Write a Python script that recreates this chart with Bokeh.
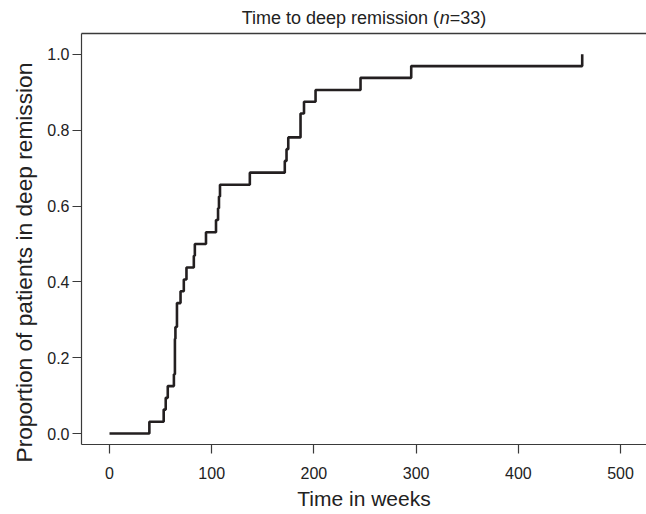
from bokeh.plotting import figure
from bokeh.layouts import column
from bokeh.models import LinearAxis, FixedTicker, Range1d, Label, Title, NumeralTickFormatter
from bokeh.embed import file_html
from bokeh.resources import INLINE

title_main = "Time to deep remission ("
title_italic = "n"
title_tail = "=33)"
x_label = "Time in weeks"
y_label = "Proportion of patients in deep remission"

weeks = [0, 39, 53, 55, 57, 63, 64, 64.5, 66, 69.5, 72.7, 75.3, 82.5, 83.5, 94.4,
         104.2, 106.2, 107.1, 108.1, 137.3, 171.5, 173.2, 174.9, 186.9, 190.3,
         201.6, 245.6, 295.2, 462.5]
proportion = [0.0, 0.031, 0.063, 0.094, 0.125, 0.156, 0.25, 0.281, 0.344, 0.375,
              0.406, 0.438, 0.469, 0.5, 0.531, 0.563, 0.594, 0.625, 0.656, 0.688,
              0.719, 0.75, 0.781, 0.844, 0.875, 0.906, 0.938, 0.969, 1.0]
x_ticks = [0, 100, 200, 300, 400, 500]
y_ticks = [0.0, 0.2, 0.4, 0.6, 0.8, 1.0]

FONT = "Liberation Sans"
AX = "#3a3a3a"
TXT = "#222222"
TITLE_SIZE = 18

# title strip (its frame is aligned with the main frame: x from 81 to 646 px)
t = figure(width=646, height=30, x_range=Range1d(81, 646), y_range=Range1d(30, 0),
           output_backend="svg", toolbar_location=None, min_border=0,
           min_border_left=81, min_border_right=0,
           x_axis_type=None, y_axis_type=None)
t.outline_line_color = None
t.xgrid.visible = False
t.ygrid.visible = False
w_main = 11003 * TITLE_SIZE / 1000.0
w_n = 556 * TITLE_SIZE / 1000.0
w_tail = 2029 * TITLE_SIZE / 1000.0
tx = 363.5 - (w_main + w_n + w_tail) / 2.0
ty = 17
common = dict(text_font=FONT, text_font_size=f"{TITLE_SIZE}px", text_color=TXT,
              text_baseline="alphabetic", text_align="left")
t.add_layout(Label(x=tx, y=ty, text=title_main, **common))
t.add_layout(Label(x=tx, y=ty, x_offset=w_main, text=title_italic,
                   text_font_style="italic", **common))
t.add_layout(Label(x=tx, y=ty, x_offset=w_main + w_n, text=title_tail, **common))

p = figure(width=646, height=484,
           x_range=Range1d(-27.4, 525.4), y_range=Range1d(-0.029, 1.055),
           output_backend="svg", toolbar_location=None,
           min_border_left=81, min_border_right=0, min_border_top=3, min_border_bottom=70)
p.outline_line_color = None
p.xgrid.visible = False
p.ygrid.visible = False

for ax in (p.xaxis[0], p.yaxis[0]):
    ax.axis_line_color = AX
    ax.axis_line_width = 1.2
    ax.major_tick_line_color = AX
    ax.major_tick_line_width = 1.2
    ax.major_tick_in = 0
    ax.major_tick_out = 9
    ax.minor_tick_line_color = None
    ax.major_label_text_font = FONT
    ax.major_label_text_font_size = "16px"
    ax.major_label_text_color = TXT
    ax.axis_label_text_font = FONT
    ax.axis_label_text_font_style = "normal"
    ax.axis_label_text_color = TXT

p.xaxis.axis_label_text_font_size = "21px"
p.xaxis.ticker = FixedTicker(ticks=x_ticks)
p.yaxis.ticker = FixedTicker(ticks=y_ticks)
p.yaxis.formatter = NumeralTickFormatter(format="0.0")
p.xaxis.axis_label = x_label
p.xaxis.major_label_standoff = 13
p.yaxis.major_label_standoff = 3
p.xaxis.axis_label_standoff = 5

# y-axis label as a side title, so it can sit where the reference places it
p.add_layout(Title(text=y_label, align="left", offset=-18, standoff=15,
                   text_line_height=0.8,
                   text_font=FONT, text_font_size="22.7px", text_font_style="normal",
                   text_color=TXT), "left")

top = LinearAxis(ticker=FixedTicker(ticks=[]), major_tick_out=0, major_tick_in=0,
                 minor_tick_out=0, minor_tick_in=0, major_label_standoff=0,
                 axis_line_color=AX, axis_line_width=1.5)
p.add_layout(top, "above")

p.step(weeks, proportion, mode="after", line_color="#231f20", line_width=2.6)

layout = column(t, p, spacing=0)
open("out.html", "w").write(file_html(layout, INLINE))
